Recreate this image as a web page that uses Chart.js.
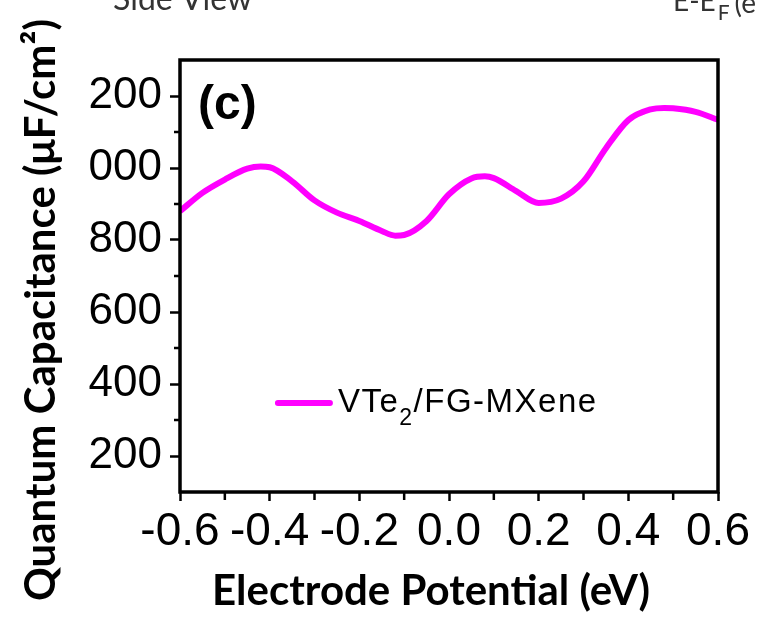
<!DOCTYPE html>
<html>
<head>
<meta charset="utf-8">
<script src="https://cdn.jsdelivr.net/npm/chart.js@4.4.1/dist/chart.umd.min.js"></script>
<style>
  html, body { margin: 0; padding: 0; background: #fff; }
  #wrap { width: 757px; height: 617px; position: relative; }
</style>
</head>
<body>
<div id="wrap"><canvas id="qcChart"></canvas></div>
<script>
// electrode potential (eV) vs quantum capacitance (uF/cm2)
const potential = [-0.6, -0.55, -0.5, -0.45, -0.42, -0.4, -0.35, -0.3, -0.25, -0.2, -0.15, -0.12,
    -0.1, -0.05, 0.0, 0.05, 0.08, 0.1, 0.15, 0.2, 0.25, 0.3, 0.35, 0.4, 0.45, 0.48, 0.5, 0.55, 0.6];
const capacitance = [880, 931, 968, 998, 1004, 1002, 963, 910, 876, 853, 825, 812,
    814, 853, 927, 971, 977, 972, 936, 903, 915, 963, 1055, 1133, 1163, 1167, 1166, 1156, 1134];

const xTicks = [-0.6, -0.4, -0.2, 0, 0.2, 0.4, 0.6];
const xMinorTicks = [-0.5, -0.3, -0.1, 0.1, 0.3, 0.5];
const yTicks = [200, 400, 600, 800, 1000, 1200];
const yMinorTicks = [300, 500, 700, 900, 1100];

// legend text pieces, the "2" is a subscript
const seriesLabel = ['VTe', '2', '/FG-MXene'];
const panelTag = '(c)';
const xTitle = 'Electrode Potential (eV)';
const yTitle = 'Quantum Capacitance (\u03bcF/cm\u00b2)';

const lineColor = '#ff00ff';

Chart.defaults.font.family = '"Liberation Sans", Arial, sans-serif';
Chart.defaults.color = '#000';

const panelDecor = {
    id: 'panelDecor',
    afterDraw(chart) {
        const { ctx, chartArea: a, scales: { x, y } } = chart;
        const w = a.right - a.left;
        const h = a.bottom - a.top;
        ctx.save();

        // frame
        ctx.strokeStyle = '#000';
        ctx.lineWidth = 3.5;
        ctx.strokeRect(a.left, a.top, w, h);

        // minor ticks
        ctx.lineWidth = 2.5;
        ctx.beginPath();
        yMinorTicks.forEach(function (v) {
            const py = y.getPixelForValue(v);
            ctx.moveTo(a.left - 6, py);
            ctx.lineTo(a.left, py);
        });
        xMinorTicks.forEach(function (v) {
            const px = x.getPixelForValue(v);
            ctx.moveTo(px, a.bottom);
            ctx.lineTo(px, a.bottom + 8);
        });
        ctx.stroke();

        // legend
        const lx = a.left + w * 0.182;
        const ly = a.top + h * 0.794;
        ctx.strokeStyle = lineColor;
        ctx.lineWidth = 6;
        ctx.lineCap = 'round';
        ctx.beginPath();
        ctx.moveTo(lx, ly);
        ctx.lineTo(lx + 52, ly);
        ctx.stroke();

        ctx.fillStyle = '#000';
        ctx.textAlign = 'left';
        ctx.textBaseline = 'alphabetic';
        ctx.letterSpacing = '1.5px';
        let tx = lx + 60;
        ctx.font = '33px "Liberation Sans", Arial';
        ctx.fillText(seriesLabel[0], tx, ly + 9);
        tx += ctx.measureText(seriesLabel[0]).width;
        ctx.font = '23px "Liberation Sans", Arial';
        ctx.fillText(seriesLabel[1], tx, ly + 22);
        tx += ctx.measureText(seriesLabel[1]).width;
        ctx.font = '33px "Liberation Sans", Arial';
        ctx.fillText(seriesLabel[2], tx, ly + 9);
        ctx.letterSpacing = '0px';

        // panel tag
        ctx.font = 'bold 48px "Liberation Sans", Arial';
        ctx.fillText(panelTag, a.left + 18, a.top + 59);

        // axis titles
        ctx.font = 'bold 42px Lato';
        ctx.textAlign = 'center';
        ctx.fillText(xTitle, 431, 605);
        ctx.save();
        ctx.translate(55, 310);
        ctx.rotate(-Math.PI / 2);
        ctx.fillText(yTitle, 0, 0);
        ctx.restore();

        // captions of the neighbouring panels
        ctx.fillStyle = '#333';
        ctx.textAlign = 'left';
        ctx.font = '32px Lato';
        ctx.fillText('Side View', 113, 10);
        ctx.font = '28px Lato';
        ctx.fillText('E-E', 673, 11);
        let ex = 673 + ctx.measureText('E-E').width + 2;
        ctx.font = '21px Lato';
        ctx.fillText('F', ex, 20);
        ex += ctx.measureText('F').width + 5;
        ctx.font = '28px Lato';
        ctx.fillText('(e', ex, 13);

        ctx.restore();
    }
};

const points = potential.map(function (p, i) {
    return { x: p, y: capacitance[i] };
});

new Chart(document.getElementById('qcChart'), {
    type: 'line',
    data: {
        datasets: [{
            label: seriesLabel.join(''),
            data: points,
            borderColor: lineColor,
            borderWidth: 6,
            pointRadius: 0,
            fill: false,
            cubicInterpolationMode: 'monotone'
        }]
    },
    options: {
        responsive: true,
        maintainAspectRatio: false,
        animation: false,
        layout: { padding: { top: 60, right: 39, bottom: 0, left: 0 } },
        plugins: {
            legend: { display: false },
            tooltip: { enabled: false }
        },
        scales: {
            x: {
                type: 'linear',
                min: -0.6,
                max: 0.6,
                afterBuildTicks: function (scale) {
                    scale.ticks = xTicks.map(function (v) { return { value: v }; });
                },
                afterFit: function (scale) { scale.height = 125; },
                ticks: {
                    autoSkip: false,
                    maxRotation: 0,
                    padding: 4,
                    font: { size: 46 },
                    callback: function (v) { return Number(v).toFixed(1); }
                },
                grid: {
                    drawOnChartArea: false,
                    tickLength: 9,
                    tickWidth: 2.5,
                    tickColor: '#000'
                },
                border: { display: false }
            },
            y: {
                min: 100,
                max: 1300,
                afterBuildTicks: function (scale) {
                    scale.ticks = yTicks.map(function (v) { return { value: v }; });
                },
                afterFit: function (scale) { scale.width = 180; },
                ticks: {
                    padding: 8,
                    font: { size: 44 },
                    // only the last three digits of each label are shown
                    callback: function (v) { return String(v).slice(-3); }
                },
                grid: {
                    drawOnChartArea: false,
                    tickLength: 10,
                    tickWidth: 2.5,
                    tickColor: '#000'
                },
                border: { display: false }
            }
        }
    },
    plugins: [panelDecor]
});
</script>
</body>
</html>
